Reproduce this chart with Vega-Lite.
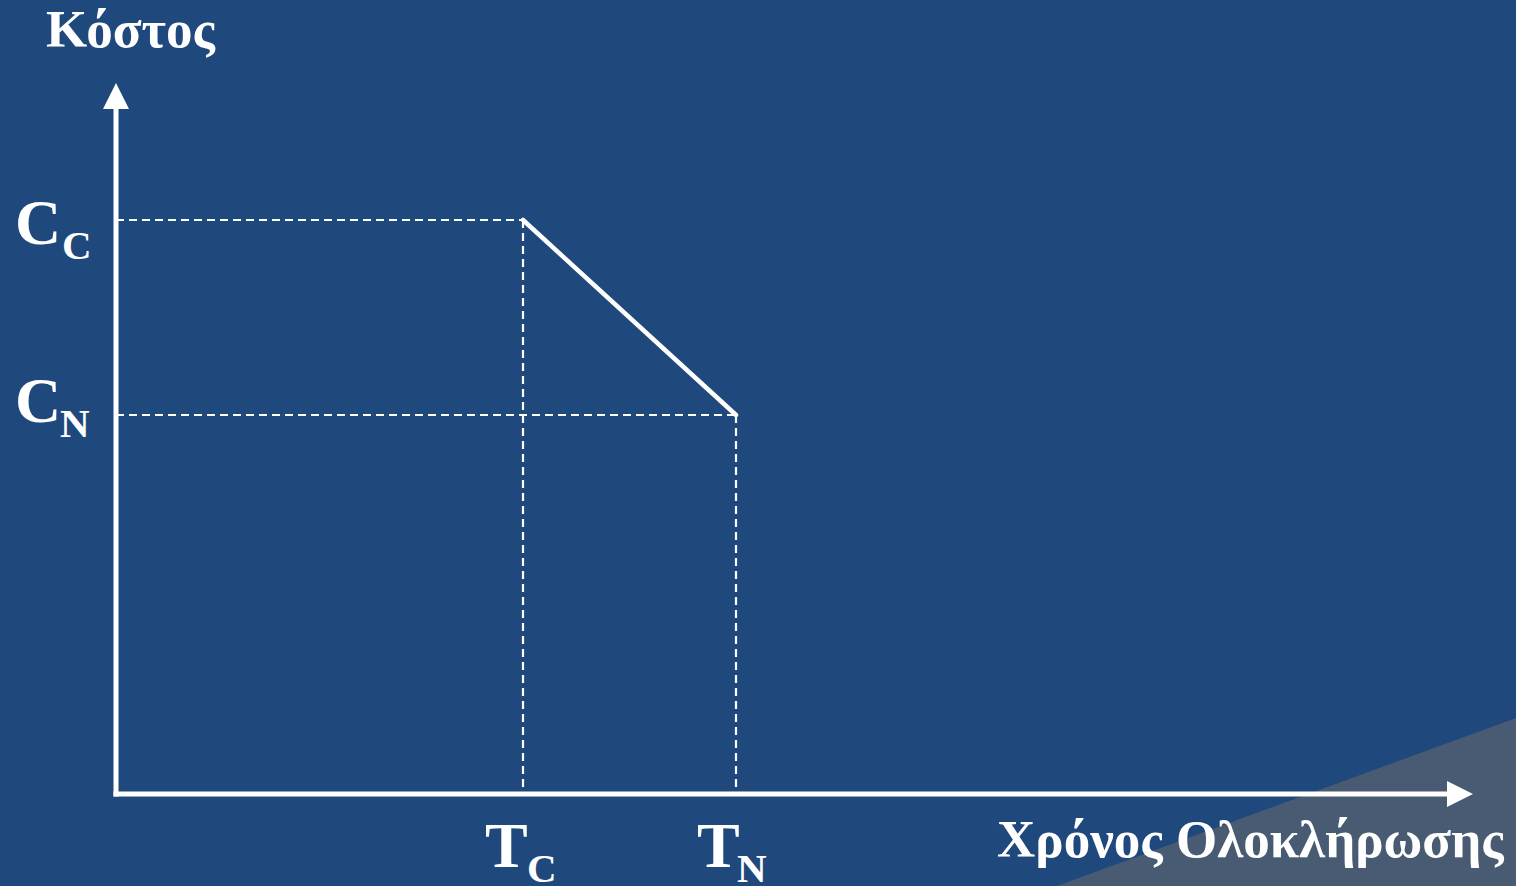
{
  "$schema": "https://vega.github.io/schema/vega-lite/v6.json",
  "width": 1516,
  "height": 886,
  "autosize": {"type": "none"},
  "padding": 0,
  "background": "#1F497D",
  "config": {"view": {"stroke": null}},
  "datasets": {
    "corner": [{"x": 941, "y": -92, "y2": -92}, {"x": 1400, "y": 76, "y2": -92}],
    "axes": [{"x": 0, "y": 0, "x2": 0, "y2": 690}, {"x": 0, "y": 0, "x2": 1336, "y2": 0}],
    "guides": [
      {"x": 0, "y": 574, "x2": 407, "y2": 574},
      {"x": 0, "y": 379, "x2": 620, "y2": 379},
      {"x": 407, "y": 574, "x2": 407, "y2": 0},
      {"x": 620, "y": 379, "x2": 620, "y2": 0}
    ],
    "cost": [{"x": 407, "y": 574, "x2": 620, "y2": 379}],
    "arrowUp": [{"x": 0, "y": 698}],
    "arrowRight": [{"x": 1344, "y": 0}],
    "titles": [
      {"x": -70, "y": 747, "label": "Κόστος"},
      {"x": 881, "y": -63, "label": "Χρόνος Ολοκλήρωσης"}
    ],
    "symbols": [
      {"x": -101, "y": 550, "label": "C"},
      {"x": -101, "y": 372, "label": "C"},
      {"x": 369, "y": -73, "label": "T"},
      {"x": 581, "y": -73, "label": "T"}
    ],
    "subscripts": [
      {"x": -54, "y": 535, "label": "C"},
      {"x": -56, "y": 357, "label": "N"},
      {"x": 411, "y": -88, "label": "C"},
      {"x": 621, "y": -88, "label": "N"}
    ]
  },
  "encoding": {
    "x": {"field": "x", "type": "quantitative", "scale": {"domain": [-116, 1400], "nice": false, "zero": false}, "axis": null},
    "y": {"field": "y", "type": "quantitative", "scale": {"domain": [-92, 794], "nice": false, "zero": false}, "axis": null}
  },
  "layer": [
    {
      "data": {"name": "corner"},
      "mark": {"type": "area", "color": "#485B72", "opacity": 1},
      "encoding": {"y2": {"field": "y2"}}
    },
    {
      "data": {"name": "guides"},
      "mark": {"type": "rule", "color": "white", "strokeWidth": 2.2, "strokeDash": [8, 5]},
      "encoding": {"x2": {"field": "x2"}, "y2": {"field": "y2"}}
    },
    {
      "data": {"name": "axes"},
      "mark": {"type": "rule", "color": "white", "strokeWidth": 5, "strokeCap": "square"},
      "encoding": {"x2": {"field": "x2"}, "y2": {"field": "y2"}}
    },
    {
      "data": {"name": "cost"},
      "mark": {"type": "rule", "color": "white", "strokeWidth": 4.5, "strokeCap": "round"},
      "encoding": {"x2": {"field": "x2"}, "y2": {"field": "y2"}}
    },
    {
      "data": {"name": "arrowUp"},
      "mark": {"type": "point", "shape": "M0,-1L1,1L-1,1Z", "size": 676, "filled": true, "color": "white", "opacity": 1, "strokeWidth": 0}
    },
    {
      "data": {"name": "arrowRight"},
      "mark": {"type": "point", "shape": "M1,0L-1,1L-1,-1Z", "size": 676, "filled": true, "color": "white", "opacity": 1, "strokeWidth": 0}
    },
    {
      "data": {"name": "titles"},
      "mark": {"type": "text", "font": "Liberation Serif", "fontWeight": "bold", "fontSize": 53, "color": "white", "align": "left", "baseline": "alphabetic"},
      "encoding": {"text": {"field": "label"}}
    },
    {
      "data": {"name": "symbols"},
      "mark": {"type": "text", "font": "Liberation Serif", "fontWeight": "bold", "fontSize": 64, "color": "white", "align": "left", "baseline": "alphabetic"},
      "encoding": {"text": {"field": "label"}}
    },
    {
      "data": {"name": "subscripts"},
      "mark": {"type": "text", "font": "Liberation Serif", "fontWeight": "bold", "fontSize": 41, "color": "white", "align": "left", "baseline": "alphabetic"},
      "encoding": {"text": {"field": "label"}}
    }
  ]
}
